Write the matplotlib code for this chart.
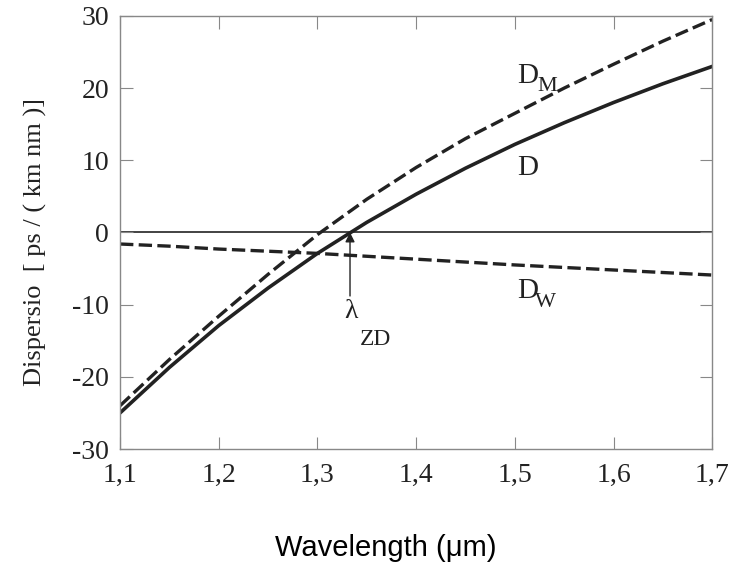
import matplotlib
matplotlib.use("Agg")
import matplotlib.pyplot as plt

# wavelength grid (um) and the three dispersion curves
wl = [1.10, 1.15, 1.20, 1.25, 1.30, 1.35, 1.40, 1.45, 1.50, 1.55, 1.60, 1.65, 1.70]
d_mat = [-24.0, -17.6, -11.6, -5.8, -0.3, 4.6, 9.0, 13.0, 16.5, 20.0, 23.3, 26.5, 29.5]
d_tot = [-25.0, -18.7, -12.9, -7.7, -2.9, 1.4, 5.3, 8.9, 12.2, 15.2, 18.0, 20.6, 23.0]
d_wg = [-1.6, -1.9, -2.3, -2.6, -2.9, -3.3, -3.7, -4.1, -4.5, -4.85, -5.2, -5.55, -5.9]

xticks = [1.1, 1.2, 1.3, 1.4, 1.5, 1.6, 1.7]
xtick_labels = ["1,1", "1,2", "1,3", "1,4", "1,5", "1,6", "1,7"]
yticks = [-30, -20, -10, 0, 10, 20, 30]
ytick_labels = ["-30", "-20", "-10", "0", "10", "20", "30"]
lambda_zd = 1.333

serif = "Liberation Serif"
ink = "#222222"

fig = plt.figure(figsize=(7.32, 5.68), dpi=100)
ax = fig.add_axes([0.164, 0.2095, 0.809, 0.7625])

ax.axhline(0, color=ink, lw=1.2, zorder=1)
ax.plot(wl, d_mat, color=ink, lw=2.4, dashes=(4, 1.6))
ax.plot(wl, d_tot, color=ink, lw=2.6)
ax.plot(wl, d_wg, color=ink, lw=2.4, dashes=(4, 1.6))

ax.annotate("", xy=(lambda_zd, 0), xytext=(lambda_zd, -8.8),
            arrowprops=dict(arrowstyle="-|>", color=ink, lw=1.0,
                            mutation_scale=14, shrinkA=0, shrinkB=0))

# curve labels: main letter and lowered subscript as separate texts
def label(x, y, main, sub=None, sx=None, sy=None, size=21, subsize=16):
    ax.text(x, y, main, family=serif, fontsize=size, color=ink, va="baseline")
    if sub:
        ax.text(sx, sy, sub, family=serif, fontsize=subsize, color=ink, va="baseline")

label(1.502, 20.7, "D", "M", 1.5226, 19.6)
label(1.502, 7.9, "D")
label(1.502, -9.1, "D", "W", 1.5206, -10.3)
label(1.327, -11.9, "\u03bb", "ZD", 1.343, -15.6, size=20, subsize=17)

ax.set_xlim(1.1, 1.7)
ax.set_ylim(-30, 30)
ax.set_xticks(xticks)
ax.set_xticklabels(xtick_labels, family=serif, fontsize=20, color=ink)
ax.set_yticks(yticks)
ax.set_yticklabels(ytick_labels, family=serif, fontsize=20, color=ink)
ax.tick_params(direction="in", length=9, width=0.8, color="#888888",
               top=True, right=True)
ax.tick_params(axis="x", pad=10)
ax.tick_params(axis="y", pad=8)
for s in ax.spines.values():
    s.set_color("#888888")
    s.set_linewidth(1.0)

ax.set_ylabel("Dispersio  [ ps / ( km nm )]", family=serif, fontsize=19, color=ink)
ax.yaxis.set_label_coords(-0.123, 0.478)
fig.text(0.527, 0.010, "Wavelength (\u03bcm)", family="Liberation Sans",
         fontsize=21, color="black", ha="center", va="bottom")

fig.savefig("out.png", dpi=100)
